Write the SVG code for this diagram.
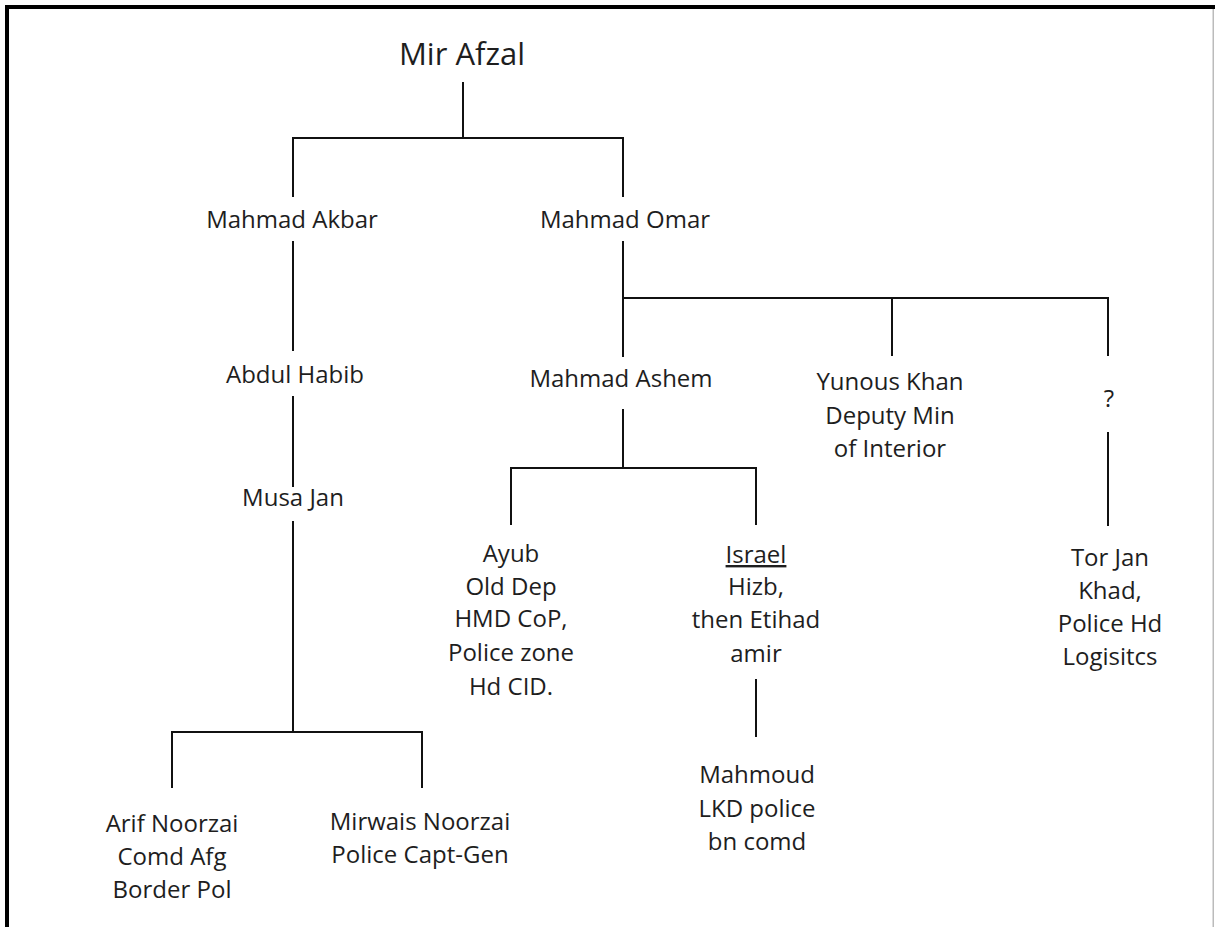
<svg xmlns="http://www.w3.org/2000/svg" width="1215" height="927" viewBox="0 0 1215 927">
<style>
text{font-family:"Open Sans","Noto Sans","Liberation Sans",sans-serif;font-size:24px;fill:#1e1e1e;text-anchor:middle}
.title{font-size:31px}
.c line{stroke:#111;stroke-width:2;stroke-linecap:square}
</style>
<rect x="0" y="0" width="1215" height="927" fill="#fff"/>
<g id="frame">
<rect x="5" y="5" width="1210" height="4" fill="#000"/>
<rect x="5" y="5" width="4" height="922" fill="#000"/>
<rect x="1212.5" y="9" width="1.5" height="918" fill="#bbb"/>
</g>
<g class="c" id="connectors">
<line x1="463" y1="83" x2="463" y2="138"/>
<line x1="293" y1="138" x2="623" y2="138"/>
<line x1="293" y1="138" x2="293" y2="196"/>
<line x1="623" y1="138" x2="623" y2="196"/>
<line x1="293" y1="242" x2="293" y2="350"/>
<line x1="293" y1="397" x2="293" y2="486"/>
<line x1="293" y1="522" x2="293" y2="732"/>
<line x1="172" y1="732" x2="422" y2="732"/>
<line x1="172" y1="732" x2="172" y2="787"/>
<line x1="422" y1="732" x2="422" y2="787"/>
<line x1="623" y1="242" x2="623" y2="298"/>
<line x1="623" y1="298" x2="1108" y2="298"/>
<line x1="623" y1="298" x2="623" y2="356"/>
<line x1="892" y1="298" x2="892" y2="355"/>
<line x1="1108" y1="298" x2="1108" y2="355"/>
<line x1="623" y1="410" x2="623" y2="468"/>
<line x1="511" y1="468" x2="756" y2="468"/>
<line x1="511" y1="468" x2="511" y2="524"/>
<line x1="756" y1="468" x2="756" y2="524"/>
<line x1="1108" y1="433" x2="1108" y2="525"/>
<line x1="756" y1="680" x2="756" y2="736"/>
</g>
<g id="mir-afzal"><text class="title" x="462" y="65">Mir Afzal</text></g>
<g id="mahmad-akbar"><text x="292" y="228">Mahmad Akbar</text></g>
<g id="mahmad-omar"><text x="625" y="228">Mahmad Omar</text></g>
<g id="abdul-habib"><text x="295" y="383">Abdul Habib</text></g>
<g id="musa-jan"><text x="293" y="506">Musa Jan</text></g>
<g id="arif-noorzai">
<text x="172" y="832">Arif Noorzai</text>
<text x="172" y="865">Comd Afg</text>
<text x="172" y="898">Border Pol</text>
</g>
<g id="mirwais-noorzai">
<text x="420" y="830">Mirwais Noorzai</text>
<text x="420" y="863">Police Capt-Gen</text>
</g>
<g id="mahmad-ashem"><text x="621" y="387">Mahmad Ashem</text></g>
<g id="yunous-khan">
<text x="890" y="390">Yunous Khan</text>
<text x="890" y="423.5">Deputy Min</text>
<text x="890" y="457">of Interior</text>
</g>
<g id="unknown"><text x="1109" y="407">?</text></g>
<g id="ayub">
<text x="511" y="562">Ayub</text>
<text x="511" y="595">Old Dep</text>
<text x="511" y="627">HMD  CoP,</text>
<text x="511" y="661">Police zone</text>
<text x="511" y="695">Hd CID.</text>
</g>
<g id="israel">
<text x="756" y="563" text-decoration="underline">Israel</text>
<text x="756" y="595">Hizb,</text>
<text x="756" y="628">then Etihad</text>
<text x="756" y="662">amir</text>
</g>
<g id="tor-jan">
<text x="1110" y="566">Tor Jan</text>
<text x="1110" y="599">Khad,</text>
<text x="1110" y="632">Police Hd</text>
<text x="1110" y="665">Logisitcs</text>
</g>
<g id="mahmoud">
<text x="757" y="783">Mahmoud</text>
<text x="757" y="817">LKD police</text>
<text x="757" y="850">bn comd</text>
</g>
</svg>
